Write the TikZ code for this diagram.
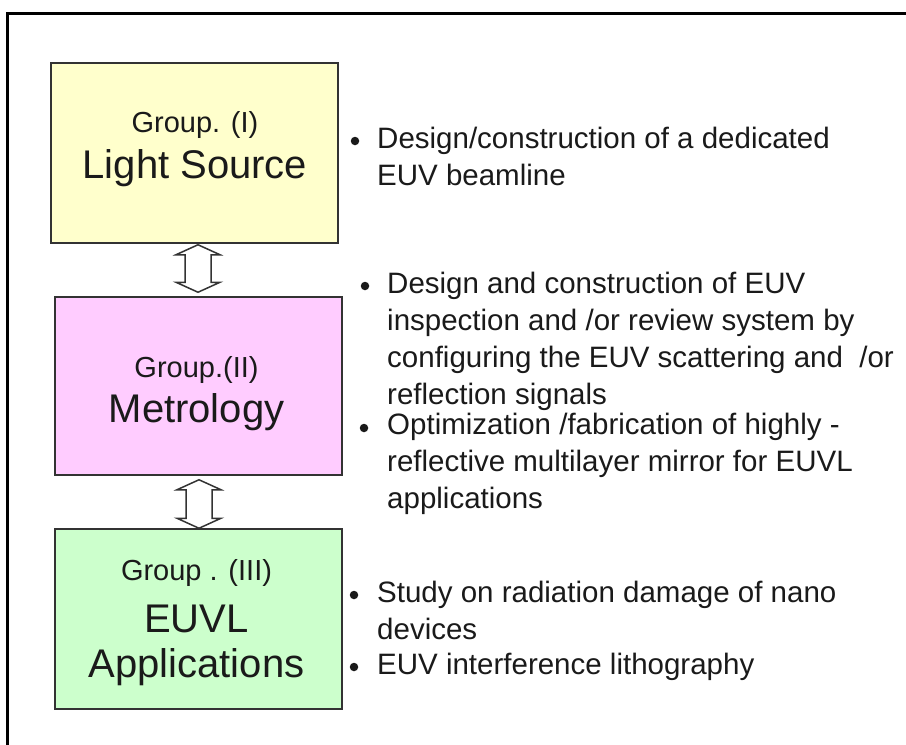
\documentclass[tikz,border=0pt]{standalone}
\usepackage{fontspec}
\setmainfont{Liberation Sans}
\usetikzlibrary{calc}
\definecolor{yel}{HTML}{FFFFCC}
\definecolor{pnk}{HTML}{FFCCFF}
\definecolor{grn}{HTML}{CCFFCC}
\definecolor{ink}{HTML}{1A1A1A}
\definecolor{edge}{HTML}{333333}
\begin{document}
\begin{tikzpicture}[x=1pt,y=-1pt,
  box/.style={draw=edge, line width=1.5pt, minimum width=287pt, minimum height=180pt, inner sep=0pt},
  grp/.style={font=\fontsize{29}{35}\selectfont, text=ink, anchor=base, inner sep=0pt},
  big/.style={font=\fontsize{40}{46}\selectfont, text=ink, anchor=base, inner sep=0pt},
  item/.style={font=\fontsize{29.5}{37}\selectfont, text=ink, anchor=base west, align=left, inner sep=0pt},
  dot/.style={circle, fill=ink, minimum size=8.5pt, inner sep=0pt},
  dblarr/.style={draw=edge, fill=white, line width=1.5pt, line join=miter}
]
\useasboundingbox (0,0) rectangle (906,745);
\fill[white] (0,0) rectangle (906,745);
\draw[line width=3pt] (7,746) -- (7,13) -- (907,13);

% boxes
\node[box, fill=yel] (b1) at (194.5,153) {};
\node[box, fill=pnk, minimum height=178pt] (b2) at (198.5,386) {};
\node[box, fill=grn] (b3) at (198.5,619) {};

% box labels
\node[grp] (g1) at (195,132) {Group. (I)};
\node[big] (n1) at (195,178) {Light Source};
\node[grp] (g2) at (196.5,377) {Group.(II)};
\node[big] (n2) at (196.5,422) {Metrology};
\node[grp] (g3) at (196.5,580) {Group . (III)};
\node[big] (n3a) at (196.5,632) {EUVL};
\node[big] (n3b) at (196.5,677) {Applications};

% double arrows
\coordinate (cx) at (198,0);
\draw[dblarr] ($(b1.south -| cx)+(0,1)$) coordinate (t1) -- ++(22,10) -- ++(-9,0)
  -- ($(b2.north -| cx)+(13,-14)$) -- ++(9,0) -- ($(b2.north -| cx)+(0,-4)$)
  -- ++(-22,-10) -- ++(9,0) -- ($(t1)+(-13,10)$) -- ++(-9,0) -- cycle;
\coordinate (cy) at (199,0);
\draw[dblarr] ($(b2.south -| cy)+(0,4)$) coordinate (t2) -- ++(22,10) -- ++(-9,0)
  -- ($(b3.north -| cy)+(13,-10)$) -- ++(9,0) -- (b3.north -| cy)
  -- ++(-22,-10) -- ++(9,0) -- ($(t2)+(-13,10)$) -- ++(-9,0) -- cycle;

% bullet texts (anchor = baseline of the last line)
\node[dot] (d1) at (355,141) {};
\node[item] (i1) at (377,185) {Design/construction of a dedicated\\EUV beamline};
\node[dot] (d2) at (365,286) {};
\node[item] (i2) at (387,404) {Design and construction of EUV\\inspection and /or review system by\\configuring the EUV scattering and\ \ /or\\reflection signals};
\node[dot] (d3) at (364,428) {};
\node[item] (i3) at (387,508) {Optimization /fabrication of highly -\\reflective multilayer mirror for EUVL\\applications};
\node[dot] (d4) at (354,595) {};
\node[item] (i4) at (377,639) {Study on radiation damage of nano\\devices};
\node[dot] (d5) at (354,667) {};
\node[item] (i5) at (377,674) {EUV interference lithography};
\end{tikzpicture}
\end{document}
